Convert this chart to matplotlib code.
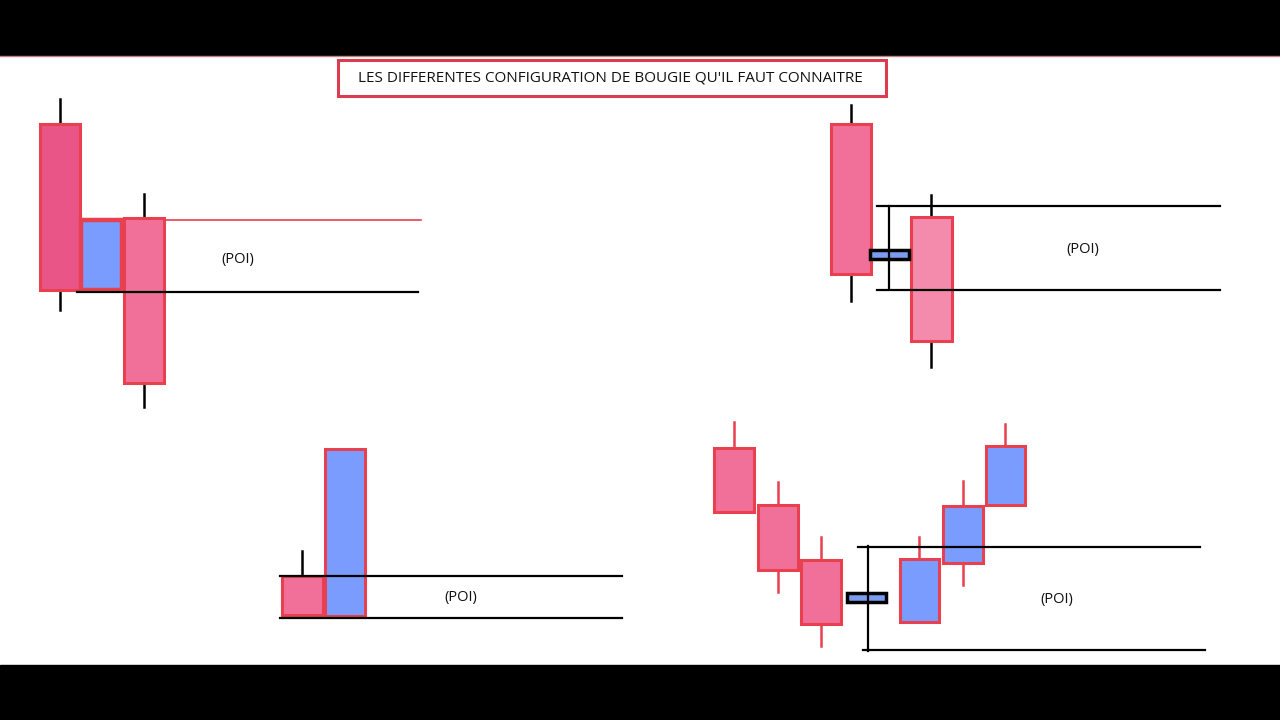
import matplotlib.pyplot as plt
from matplotlib.patches import Rectangle

# candles: x centre, width, body top, body bottom, wick top, wick bottom (screen units)
p1_x = [60, 101, 144]
p1_w = [40, 41, 40]
p1_top = [124, 220, 218]
p1_bot = [290, 290, 383]
p1_hi = [99, 220, 194]
p1_lo = [310, 290, 407]
p1_fill = ["#EA5587", "#7A9CFF", "#F0709A"]
p1_edge = [2.2, 3.2, 2.2]

p2_x = [851, 931]
p2_w = [40, 41]
p2_top = [124, 217]
p2_bot = [274, 341]
p2_hi = [105, 195]
p2_lo = [301, 367]
p2_fill = ["#F0709A", "#F48BAD"]

p3_x = [302, 345]
p3_w = [41, 40]
p3_top = [576, 449]
p3_bot = [615, 616]
p3_hi = [551, 449]
p3_lo = [615, 616]
p3_fill = ["#F0709A", "#7A9CFF"]

p4_x = [734, 778, 821, 919, 963, 1005]
p4_w = [40, 40, 40, 39, 40, 39]
p4_top = [448, 505, 560, 559, 506, 446]
p4_bot = [512, 570, 624, 622, 563, 505]
p4_hi = [422, 482, 537, 537, 481, 424]
p4_lo = [512, 592, 646, 622, 585, 505]
p4_fill = ["#F0709A"] * 3 + ["#7A9CFF"] * 3

# POI zone lines: x start, x end, y
zones = [
    (77, 418, 292, "black"),
    (164, 421, 220, "#E8404F"),
    (877, 1220, 206, "black"),
    (877, 1220, 290, "black"),
    (280, 622, 576, "black"),
    (280, 622, 618, "black"),
    (858, 1200, 547, "black"),
    (863, 1205, 650, "black"),
]
# vertical markers and small blue bars
markers = [(889, 206, 288), (868, 546, 651)]
gaps = [(870, 909, 250, 259), (847, 886, 593, 602)]
poi_pos = [(238, 259), (1083, 250), (461, 597), (1057, 599)]

fig = plt.figure(figsize=(12.8, 7.2), dpi=100)
ax = fig.add_axes([0, 0, 1, 1])
ax.set_xlim(0, 1280)
ax.set_ylim(720, 0)
ax.axis("off")

# black bands
ax.add_patch(Rectangle((0, 0), 1280, 55, color="black", zorder=5))
ax.add_patch(Rectangle((0, 665), 1280, 55, color="black", zorder=5))
ax.plot([0, 1280], [55.5, 55.5], color="#C08080", lw=1, zorder=6)


def candles(xs, ws, tops, bots, his, los, fills, wick_color, edges=None):
    if edges is None:
        edges = [2.2] * len(xs)
    for x, w, t, b, h, l, f, e in zip(xs, ws, tops, bots, his, los, fills, edges):
        if h < t:
            ax.plot([x, x], [h, t], color=wick_color, lw=1.8, zorder=2)
        if l > b:
            ax.plot([x, x], [b, l], color=wick_color, lw=1.8, zorder=2)
        ax.add_patch(Rectangle((x - w / 2, t), w, b - t, facecolor=f,
                               edgecolor="#E8404F", lw=e, zorder=3))


candles(p1_x, p1_w, p1_top, p1_bot, p1_hi, p1_lo, p1_fill, "black", p1_edge)
candles(p2_x, p2_w, p2_top, p2_bot, p2_hi, p2_lo, p2_fill, "black")
candles(p3_x, p3_w, p3_top, p3_bot, p3_hi, p3_lo, p3_fill, "black")
candles(p4_x, p4_w, p4_top, p4_bot, p4_hi, p4_lo, p4_fill, "#E8404F")

for x0, x1, y, c in zones:
    lw = 1.2 if c != "black" else 1.6
    ax.plot([x0, x1], [y, y], color=c, lw=lw, zorder=4)

for x, y0, y1 in markers:
    ax.plot([x, x], [y0, y1], color="black", lw=1.6, zorder=4)

for x0, x1, y0, y1 in gaps:
    ax.add_patch(Rectangle((x0, y0), x1 - x0, y1 - y0, facecolor="#7A9CF0",
                           edgecolor="black", lw=2.5, zorder=3))

for x, y in poi_pos:
    ax.text(x, y, "(POI)", ha="center", va="center", fontsize=10.5,
            family="Open Sans", color="#111111")

# title box
ax.add_patch(Rectangle((338, 60), 548, 36, facecolor="white",
                       edgecolor="#DC3C50", lw=2.2, zorder=4))
ax.text(610, 78, "LES DIFFERENTES CONFIGURATION DE BOUGIE QU'IL FAUT CONNAITRE",
        ha="center", va="center", fontsize=11, family="Open Sans",
        color="#111111", zorder=5)

fig.savefig("out.png", dpi=100)
